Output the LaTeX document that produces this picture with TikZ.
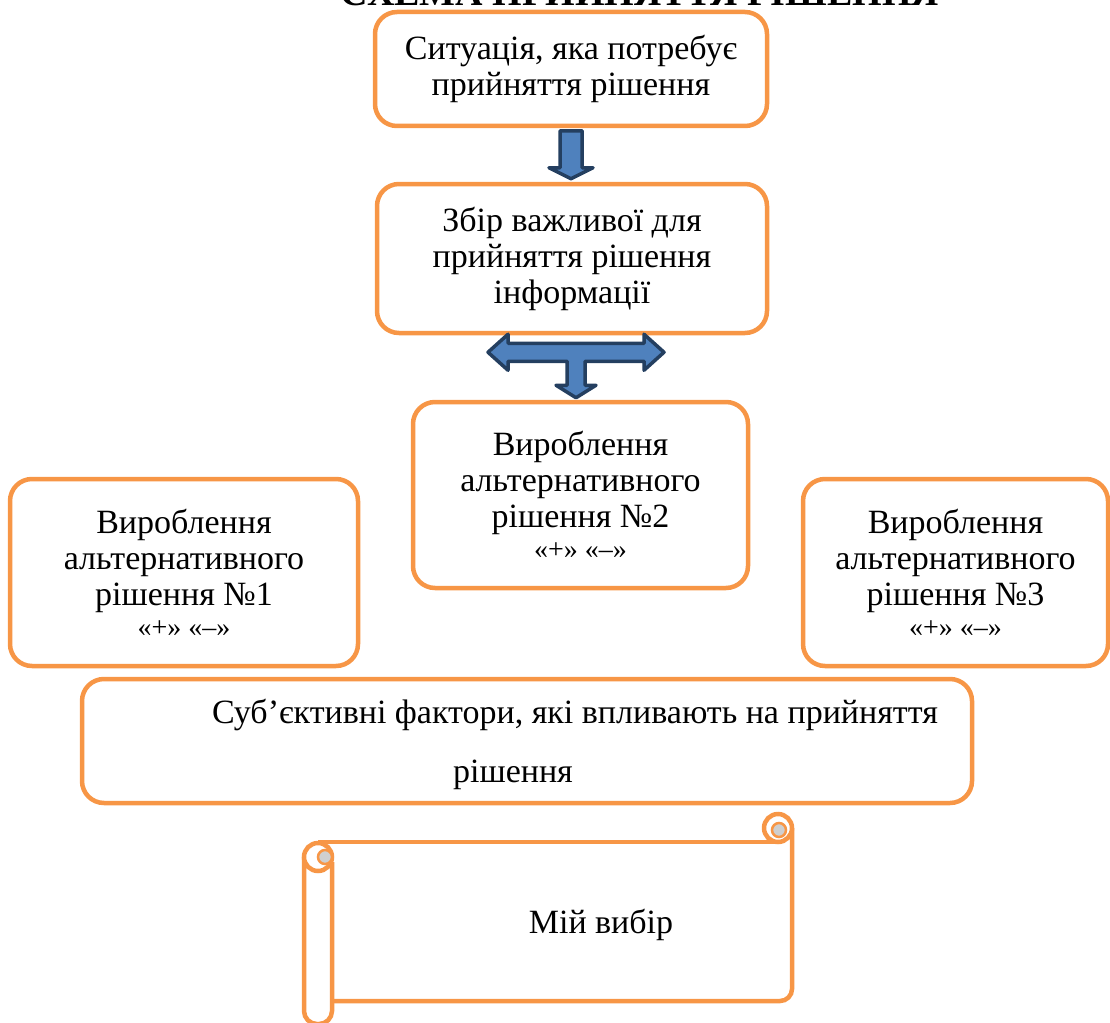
\documentclass[tikz,border=0pt]{standalone}
\usepackage{fontspec}
\setmainfont{Liberation Serif}
\usetikzlibrary{calc}
\definecolor{boxorange}{HTML}{F79646}
\definecolor{arrowblue}{HTML}{4F81BD}
\definecolor{arrowdark}{HTML}{243F60}
\definecolor{curlgray}{HTML}{CFCFCF}

\begin{document}
\begin{tikzpicture}[x=1pt, y=-1pt, semithick]
\tikzstyle{box}=[draw=boxorange, line width=4.5pt, rounded corners=22pt, fill=white, align=center, inner sep=0pt, font=\fontsize{34}{36}\selectfont]
\tikzstyle{blockarrow}=[draw=arrowdark, fill=arrowblue, line width=3.5pt, line join=round]
\tikzstyle{scroll}=[draw=boxorange, line width=4.5pt]
\tikzstyle{txt}=[inner sep=0pt, anchor=base, font=\fontsize{34}{36}\selectfont]
\newcommand{\plusminus}{\\[-5pt]{\fontsize{28}{30}\selectfont «+» «–»}}

\useasboundingbox (0,0) rectangle (1110,1022);

% title, cut by the page
\node[anchor=base, font=\bfseries\fontsize{38}{38}\selectfont] (title) at (640,6) {СХЕМА ПРИЙНЯТТЯ РІШЕННЯ};

\node[box, minimum width=392, minimum height=114] (sit)  at (571,69)    {Ситуація, яка потребує\\прийняття рішення};
\node[box, minimum width=390, minimum height=149] (zbir) at (572,258.5) {Збір важливої для\\прийняття рішення\\інформації};
\node[box, minimum width=335, minimum height=186] (alt2) at (580.5,495) {Вироблення\\альтернативного\\рішення №2\plusminus};
\node[box, minimum width=348, minimum height=187] (alt1) at (184,572.5) {Вироблення\\альтернативного\\рішення №1\plusminus};
\node[box, minimum width=305, minimum height=187] (alt3) at (955.5,572.5) {Вироблення\\альтернативного\\рішення №3\plusminus};
\node[box, minimum width=890, minimum height=124] (fakt) at (527,741) {};
\node[txt] (fakt1) at (575,723) {Суб’єктивні фактори, які впливають на прийняття};
\node[txt] (fakt2) at (513,782) {рішення};

% arrows
\coordinate (d) at ($(sit.south)+(0,2.5)$);
\draw[blockarrow] (d) ++(-11,0) -- ++(22,0) -- ++(0,37) -- ++(11,0)
  -- ($(zbir.north)+(-1,-3)$) -- ($(d)+(-22,37)$) -- ($(d)+(-11,37)$) -- cycle;

\coordinate (t) at ($(zbir.south)+(4,17)$);
\draw[blockarrow] ($(t)+(-88,0)$) -- ++(20,-18) -- ++(0,9) -- ++(136,0) -- ++(0,-9)
  -- ++(20,18) -- ++(-20,18) -- ++(0,-9) -- ++(-59,0) -- ++(0,24) -- ++(11,0)
  -- ($(alt2.north)+(-4.5,-2)$) -- ($(t)+(-20,33)$) -- ++(11,0) -- ++(0,-24)
  -- ++(-59,0) -- ++(0,9) -- cycle;

% scroll
\draw[scroll] (318,842) -- (778,842);
\draw[scroll, rounded corners=12pt] (792,828) -- (792,1001) -- (332,1001);
\draw[scroll, rounded corners=13pt, fill=white] (332,862) -- (332,1024) -- (304,1024) -- (304,857);
\draw[scroll, fill=white] (318,857) circle[radius=14];
\draw[boxorange, line width=2.5pt, fill=curlgray] (325,857) circle[radius=7];
\draw[scroll, fill=white] (778,828) circle[radius=14];
\draw[boxorange, line width=2.5pt, fill=curlgray] (779,830) circle[radius=7];
\node[txt] (vybir) at (601,933) {Мій вибір};
\end{tikzpicture}
\end{document}
